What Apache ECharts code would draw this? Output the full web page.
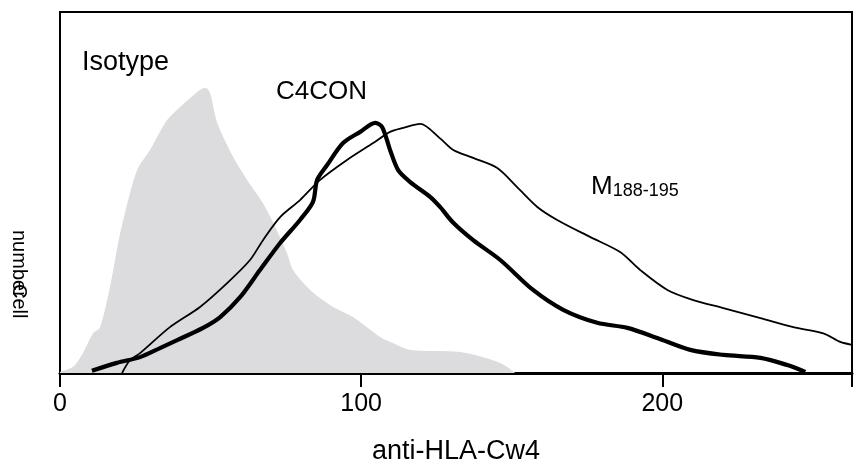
<!DOCTYPE html>
<html>
<head>
    <meta charset="utf-8">
    <title>anti-HLA-Cw4 histogram</title>
    <script src="https://cdn.jsdelivr.net/npm/echarts@6/dist/echarts.min.js"></script>
    <style>
        html, body { margin: 0; padding: 0; background: #fff; }
        #chart { width: 854px; height: 468px; }
    </style>
</head>
<body>
<div id="chart"></div>

<script>
    // histogram outlines (x = fluorescence, y = relative cell count)
    const isotypeX = [0, 4.3, 7.6, 11, 13.3, 16.6, 19.3, 21, 25.6, 29.9, 35.5, 39.9, 45.5, 48.2, 49.8, 52.2, 57.5, 62.1, 67.4, 70.8, 75.4, 77.4, 83.1, 90.7, 97.3, 106.3, 110.6, 116.3, 132.9, 146.2, 151.2];
    const isotypeY = [0.3, 1.7, 5.5, 11, 12.7, 23.8, 36, 42.4, 56.2, 61.8, 70, 73.7, 77.8, 79, 77.6, 69.3, 59.8, 53.5, 47, 41.6, 33.2, 28.5, 23, 18.3, 15.5, 10, 8.3, 6.4, 5.8, 2.8, 0];

    const mX = [20.6, 23.3, 26.6, 36.5, 46.5, 55.5, 63.1, 67.4, 73.1, 79.7, 86.4, 95.3, 104, 109.6, 114, 119.6, 126.2, 130.6, 137.2, 145.2, 151.8, 158.5, 165.1, 176, 186, 192.7, 201.7, 210.3, 220.3, 232.6, 243.5, 253.5, 259.1, 263];
    const mY = [0, 3.6, 5.5, 12.7, 18.3, 24.9, 31.3, 36.8, 43.2, 47.9, 53.5, 59, 63.7, 66.8, 67.9, 69, 65, 61.8, 59.6, 56.8, 51.5, 46, 42.4, 37.7, 33.5, 28.5, 23, 20.2, 18, 15.2, 12.7, 11, 8.6, 7.8];

    const c4X = [10.6, 18.9, 26.6, 33.2, 38.9, 47.5, 53.2, 59.8, 66.4, 73.1, 79.7, 84, 85.4, 88.7, 94, 99.7, 104.7, 107, 109.6, 112.3, 116.3, 122.9, 126.2, 130.6, 137.2, 146.2, 157.1, 167.1, 178.4, 188.4, 198.3, 209.3, 220.3, 232.6, 241.5, 247.5];
    const c4Y = [0.6, 2.8, 4.4, 6.9, 9.1, 12.5, 15.5, 21, 28.5, 36, 42.4, 47.4, 53.5, 57.6, 63.7, 66.8, 69.3, 68.1, 61.8, 56.2, 52.9, 48.8, 46, 41.6, 36.8, 31.3, 23, 17.5, 13.9, 12.5, 9.7, 6.4, 5, 4.2, 2.2, 0.3];

    const xTicks = [0, 100, 200];

    const pairs = (xs, ys) => xs.map((x, i) => [x, ys[i]]);

    const chart = echarts.init(document.getElementById('chart'));

    const font = 'Liberation Sans, Arial, sans-serif';

    chart.setOption({
        animation: false,
        grid: {
            left: 60, right: 2, top: 12, bottom: 95,
            outerBoundsMode: 'none',
            show: true, borderColor: '#000', borderWidth: 2
        },
        xAxis: {
            type: 'value', min: 0, max: 263, interval: 100,
            name: 'anti-HLA-Cw4', nameLocation: 'middle', nameGap: 65,
            nameTextStyle: { fontFamily: font, fontSize: 27, color: '#000' },
            axisLine: { lineStyle: { color: '#000', width: 3 } },
            axisTick: { length: 14, lineStyle: { color: '#000', width: 2 } },
            axisLabel: {
                fontFamily: font, fontSize: 25, color: '#000', margin: 19,
                formatter: v => xTicks.includes(v) ? String(v) : ''
            },
            splitLine: { show: false }
        },
        yAxis: {
            type: 'value', min: 0, max: 100,
            axisLine: { show: false }, axisTick: { show: false },
            axisLabel: { show: false }, splitLine: { show: false }
        },
        series: [
            {
                name: 'Isotype', type: 'line', data: pairs(isotypeX, isotypeY),
                smooth: 0.3, symbol: 'none',
                lineStyle: { width: 0 },
                areaStyle: { color: '#dcdcde', opacity: 1 }
            },
            {
                name: 'M188-195', type: 'line', data: pairs(mX, mY),
                smooth: 0.3, symbol: 'none',
                lineStyle: { color: '#000', width: 1.8 }
            },
            {
                name: 'C4CON', type: 'line', data: pairs(c4X, c4Y),
                smooth: 0.3, symbol: 'none',
                lineStyle: { color: '#000', width: 4.2 }
            }
        ],
        graphic: [
            { type: 'text', left: 82, top: 49, style: { text: 'Isotype', font: '27px ' + font, fill: '#000' } },
            { type: 'text', left: 276, top: 79, style: { text: 'C4CON', font: '26px ' + font, fill: '#000' } },
            {
                type: 'text', left: 591, top: 174,
                style: {
                    text: '{a|M}{b|188-195}',
                    rich: {
                        a: { fontFamily: font, fontSize: 26, fill: '#000', verticalAlign: 'bottom' },
                        b: { fontFamily: font, fontSize: 18, fill: '#000', padding: [10, 0, 0, 0] }
                    }
                }
            },
            { type: 'text', x: 9, y: 230, rotation: -Math.PI / 2, style: { text: 'number', font: '20px ' + font, fill: '#000', verticalAlign: 'bottom' } },
            { type: 'text', x: 9, y: 284, rotation: -Math.PI / 2, style: { text: 'Cell', font: '20px ' + font, fill: '#000', verticalAlign: 'bottom' } }
        ]
    });
</script>
</body>
</html>
